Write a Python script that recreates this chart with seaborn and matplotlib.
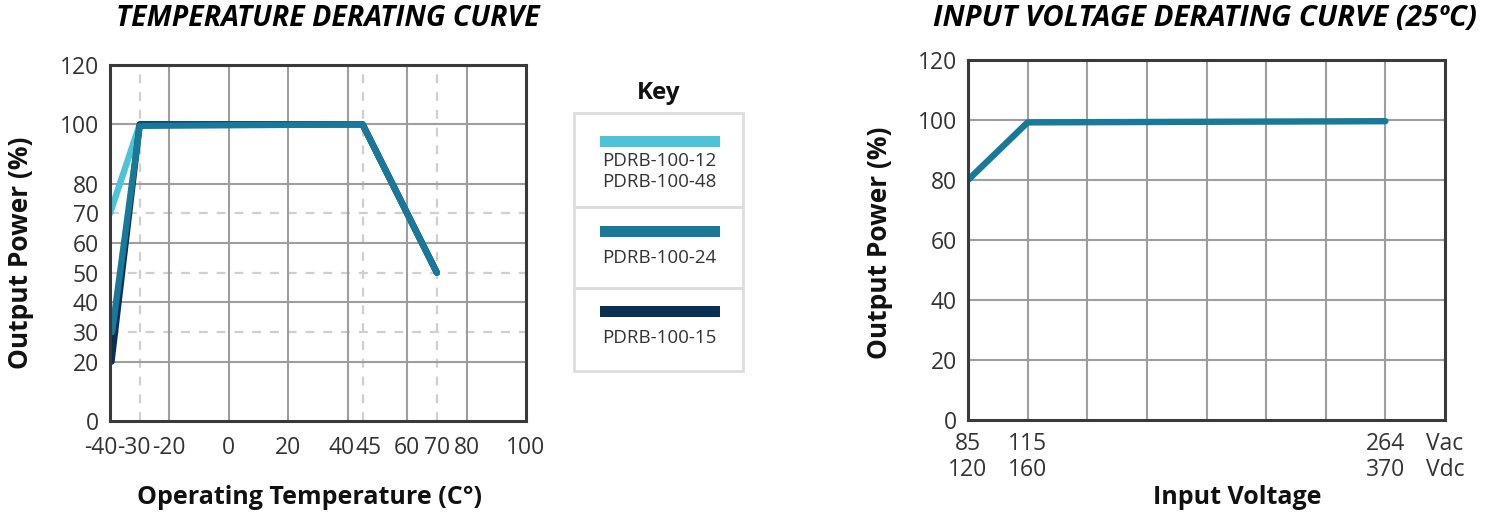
import matplotlib
matplotlib.use("Agg")
import matplotlib.pyplot as plt
import matplotlib.transforms as mtransforms
import seaborn as sns
import pandas as pd
from matplotlib.patches import Rectangle

# ---- data ----
temp_12_48_x = [-40, -30, 45, 70]
temp_12_48_y = [70, 100, 100, 50]
temp_24_x = [-39.3, -30, 45, 70]
temp_24_y = [30, 99.5, 100, 50]
temp_15_x = [-39.5, -30, 45, 70]
temp_15_y = [20, 100, 100, 50]

temp_xticks = [-40, -30, -20, 0, 20, 40, 45, 60, 70, 80, 100]
temp_yticks = [0, 20, 30, 40, 50, 60, 70, 80, 100, 120]
temp_solid_x = [-20, 0, 20, 40, 60, 80]
temp_dashed_x = [-30, 45, 70]
temp_solid_y = [20, 40, 60, 80, 100]
temp_dashed_y = [30, 50, 70]

volt_pos = [0, 1, 7]
volt_y = [80, 99.2, 99.6]
volt_tick_pos = [0, 1, 7, 8]
volt_tick_labels = ["85\n120", "115\n160", "264\n370", "Vac\nVdc"]
volt_yticks = [0, 20, 40, 60, 80, 100, 120]

key_labels = ["PDRB-100-12\nPDRB-100-48", "PDRB-100-24", "PDRB-100-15"]
key_colors = ["#4EC3D8", "#187A98", "#0C2F55"]

sns.set_theme(style="white")
plt.rcParams['font.family'] = ['Open Sans', 'DejaVu Sans']
plt.rcParams['axes.unicode_minus'] = False

TXT = "#333333"
SPINE = "#3a3a3a"
GRID = "#9e9e9e"
DASH = "#cfcfcf"
TICK_FS = 16.5
LAB_FS = 18
YLAB_FS = 19

fig = plt.figure(figsize=(14.95, 5.16), dpi=100)
W, H = 1495, 516

def ax_rect(x0, x1, ytop, ybot):
    return [x0 / W, (H - ybot) / H, (x1 - x0) / W, (ybot - ytop) / H]

# ---- left chart ----
ax1 = fig.add_axes(ax_rect(110, 526, 65, 421))
ax1.set_xlim(-40, 100)
ax1.set_ylim(0, 120)
for x in temp_dashed_x:
    ax1.axvline(x, color=DASH, lw=1.6, ls=(0, (4, 4)), zorder=1)
for y in temp_dashed_y:
    ax1.axhline(y, color=DASH, lw=1.6, ls=(0, (4, 4)), zorder=1)
for x in temp_solid_x:
    ax1.axvline(x, color=GRID, lw=1.5, zorder=1.5)
for y in temp_solid_y:
    ax1.axhline(y, color=GRID, lw=1.5, zorder=1.5)

df_a = pd.DataFrame({"x": temp_12_48_x, "y": temp_12_48_y})
df_b = pd.DataFrame({"x": temp_15_x, "y": temp_15_y})
df_c = pd.DataFrame({"x": temp_24_x, "y": temp_24_y})
sns.lineplot(data=df_a, x="x", y="y", ax=ax1, color=key_colors[0], lw=4.6,
             sort=False, solid_capstyle="round", zorder=3)
sns.lineplot(data=df_b, x="x", y="y", ax=ax1, color=key_colors[2], lw=4.6,
             sort=False, solid_capstyle="round", zorder=3.1)
sns.lineplot(data=df_c, x="x", y="y", ax=ax1, color=key_colors[1], lw=4.6,
             sort=False, solid_capstyle="round", zorder=3.2)

ax1.set_xticks(temp_xticks)
ax1.set_xticklabels([str(t) for t in temp_xticks])
ax1.set_yticks(temp_yticks)
ax1.tick_params(axis="both", labelsize=TICK_FS, colors=TXT, length=0)
ax1.tick_params(axis="x", pad=11)
ax1.tick_params(axis="y", pad=8)
# nudge crowded labels apart like the reference
shifts = {"-40": -9, "-30": -6, "-20": -1, "40": -6, "45": 6}
for lab in ax1.get_xticklabels():
    dx = shifts.get(lab.get_text(), 0)
    if dx:
        lab.set_transform(lab.get_transform() +
                          mtransforms.ScaledTranslation(dx / 100, 0, fig.dpi_scale_trans))
ax1.set_xlabel("Operating Temperature (C°)", fontsize=LAB_FS, fontweight="bold",
               color="#111111", va="center")
ax1.xaxis.set_label_coords(0.48, -0.2135)
ax1.set_ylabel("Output Power (%)", fontsize=YLAB_FS, fontweight="bold",
               color="#111111", va="center")
ax1.yaxis.set_label_coords(-0.216, 0.472)
for s in ax1.spines.values():
    s.set_color(SPINE)
    s.set_linewidth(2.2)
    s.set_zorder(4)

# ---- right chart ----
ax2 = fig.add_axes(ax_rect(968, 1445, 60, 420))
ax2.set_xlim(0, 8)
ax2.set_ylim(0, 120)
for x in range(1, 8):
    ax2.axvline(x, color=GRID, lw=1.5, zorder=1.5)
for y in volt_yticks[1:-1]:
    ax2.axhline(y, color=GRID, lw=1.5, zorder=1.5)
df_v = pd.DataFrame({"x": volt_pos, "y": volt_y})
sns.lineplot(data=df_v, x="x", y="y", ax=ax2, color=key_colors[1], lw=4.6,
             sort=False, solid_capstyle="round", zorder=3)
ax2.set_xticks(volt_tick_pos)
ax2.set_xticklabels(volt_tick_labels, linespacing=1.1)
ax2.set_yticks(volt_yticks)
ax2.tick_params(axis="both", labelsize=TICK_FS, colors=TXT, length=0)
ax2.tick_params(axis="x", pad=9)
ax2.tick_params(axis="y", pad=8)
ax2.set_xlabel("Input Voltage", fontsize=LAB_FS, fontweight="bold",
               color="#111111", va="center")
ax2.xaxis.set_label_coords(0.564, -0.214)
ax2.set_ylabel("Output Power (%)", fontsize=YLAB_FS, fontweight="bold",
               color="#111111", va="center")
ax2.yaxis.set_label_coords(-0.1845, 0.492)
for s in ax2.spines.values():
    s.set_color(SPINE)
    s.set_linewidth(2.2)
    s.set_zorder(4)

# ---- titles & key (figure pixel coordinates) ----
axk = fig.add_axes([0, 0, 1, 1])
axk.set_xlim(0, W)
axk.set_ylim(H, 0)
axk.axis("off")
axk.text(328, 19, "TEMPERATURE DERATING CURVE", ha="center", va="center",
         fontsize=20.5, fontweight="bold", fontstyle="italic", color="black")
axk.text(1205, 19, "INPUT VOLTAGE DERATING CURVE (25ºC)", ha="center", va="center",
         fontsize=21.2, fontweight="bold", fontstyle="italic", color="black")
axk.text(659, 93, "Key", ha="center", va="center", fontsize=17.5,
         fontweight="bold", color="#111111")
cells = [(113, 207), (207, 288), (288, 371)]
bar_y = [141, 231, 311]
text_y = [171.5, 258, 338]
for (t, b), by, ty, lab, col in zip(cells, bar_y, text_y, key_labels, key_colors):
    axk.add_patch(Rectangle((574, t), 169, b - t, fill=False,
                            edgecolor="#dddddd", lw=2))
    axk.add_patch(Rectangle((600, by - 5.5), 120, 11, color=col, lw=0))
    axk.text(659, ty, lab, ha="center", va="center", fontsize=13.5,
             color=TXT, linespacing=1.15)

fig.savefig("out.png", dpi=100)
